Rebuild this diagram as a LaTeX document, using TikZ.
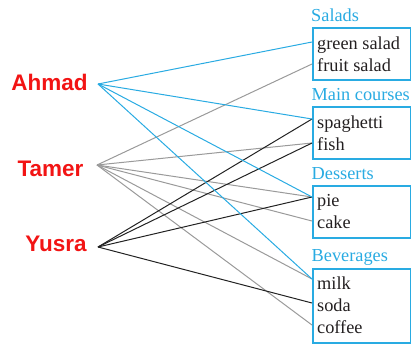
\documentclass[tikz,border=0pt]{standalone}
\usepackage{fontspec}
\setmainfont{Liberation Serif}
\newfontfamily\namefont{Liberation Sans}
\definecolor{cblue}{HTML}{29ABE2}
\definecolor{cred}{HTML}{F21414}
\definecolor{cgray}{HTML}{9A9A9A}
\definecolor{cblack}{HTML}{222222}
\definecolor{ctext}{HTML}{231F20}
\begin{document}
\begin{tikzpicture}[x=1pt,y=-1pt,
  person/.style={font=\namefont\bfseries\fontsize{22.5}{26}\selectfont, text=cred, inner sep=0pt, anchor=base},
  cat/.style={font=\fontsize{18.3}{22}\selectfont, text=cblue, inner sep=0pt, anchor=base west},
  item/.style={font=\fontsize{18.3}{22}\selectfont, text=ctext, inner sep=0pt, anchor=base west},
  grp/.style={draw=cblue, line width=1.5pt},
  la/.style={cblue, line width=1pt},
  lt/.style={cgray, line width=1pt},
  ly/.style={cblack, line width=1pt}]
\useasboundingbox (0,0) rectangle (411,343);

% people
\node[person] (ahmad) at (49.5,90) {Ahmad};
\node[person] (tamer) at (50.5,176) {Tamer};
\node[person] (yusra) at (56,251) {Yusra};
\coordinate (ahmadp) at (98,84);
\coordinate (tamerp) at (97,165);
\coordinate (yusrap) at (98,247);

% groups
\node[cat] (salads) at (311,21) {Salads};
\node[cat] (mains) at (311.5,100) {Main courses};
\node[cat] (desserts) at (311.5,179) {Desserts};
\node[cat] (bevs) at (311.5,261) {Beverages};

\node[grp, inner sep=0pt, minimum width=98pt, minimum height=52pt, anchor=north west] (bsal) at (312,27) {};
\node[grp, inner sep=0pt, minimum width=98pt, minimum height=52pt, anchor=north west] (bmain) at (312,106) {};
\node[grp, inner sep=0pt, minimum width=98pt, minimum height=52pt, anchor=north west] (bdes) at (312,185) {};
\node[grp, inner sep=0pt, minimum width=98pt, minimum height=74pt, anchor=north west] (bbev) at (312,268) {};

% items
\node[item] (green) at (317,49) {green salad};
\node[item] (fruit) at (317,71) {fruit salad};
\node[item] (spag) at (317,128) {spaghetti};
\node[item] (fish) at (317,150) {fish};
\node[item] (pie) at (317,206) {pie};
\node[item] (cake) at (317,228) {cake};
\node[item] (milk) at (317,289) {milk};
\node[item] (soda) at (317,311) {soda};
\node[item] (coffee) at (317,333) {coffee};

% connector end points on the box edges
\coordinate (greenp) at (312,42);
\coordinate (fruitp) at (312,64);
\coordinate (spagp) at (312,119);
\coordinate (fishp) at (312,143);
\coordinate (piep) at (312,197);
\coordinate (cakep) at (312,221);
\coordinate (milkp) at (312,279);
\coordinate (sodap) at (312,303);
\coordinate (coffeep) at (312,325);

% Tamer
\draw[lt] (tamerp) -- (fruitp);
\draw[lt] (tamerp) -- (fishp);
\draw[lt] (tamerp) -- (piep);
\draw[lt] (tamerp) -- (cakep);
\draw[lt] (tamerp) -- (milkp);
\draw[lt] (tamerp) -- (coffeep);
% Yusra
\draw[ly] (yusrap) -- (spagp);
\draw[ly] (yusrap) -- (fishp);
\draw[ly] (yusrap) -- (piep);
\draw[ly] (yusrap) -- (sodap);
% Ahmad
\draw[la] (ahmadp) -- (greenp);
\draw[la] (ahmadp) -- (spagp);
\draw[la] (ahmadp) -- (piep);
\draw[la] (ahmadp) -- (milkp);
\end{tikzpicture}
\end{document}
